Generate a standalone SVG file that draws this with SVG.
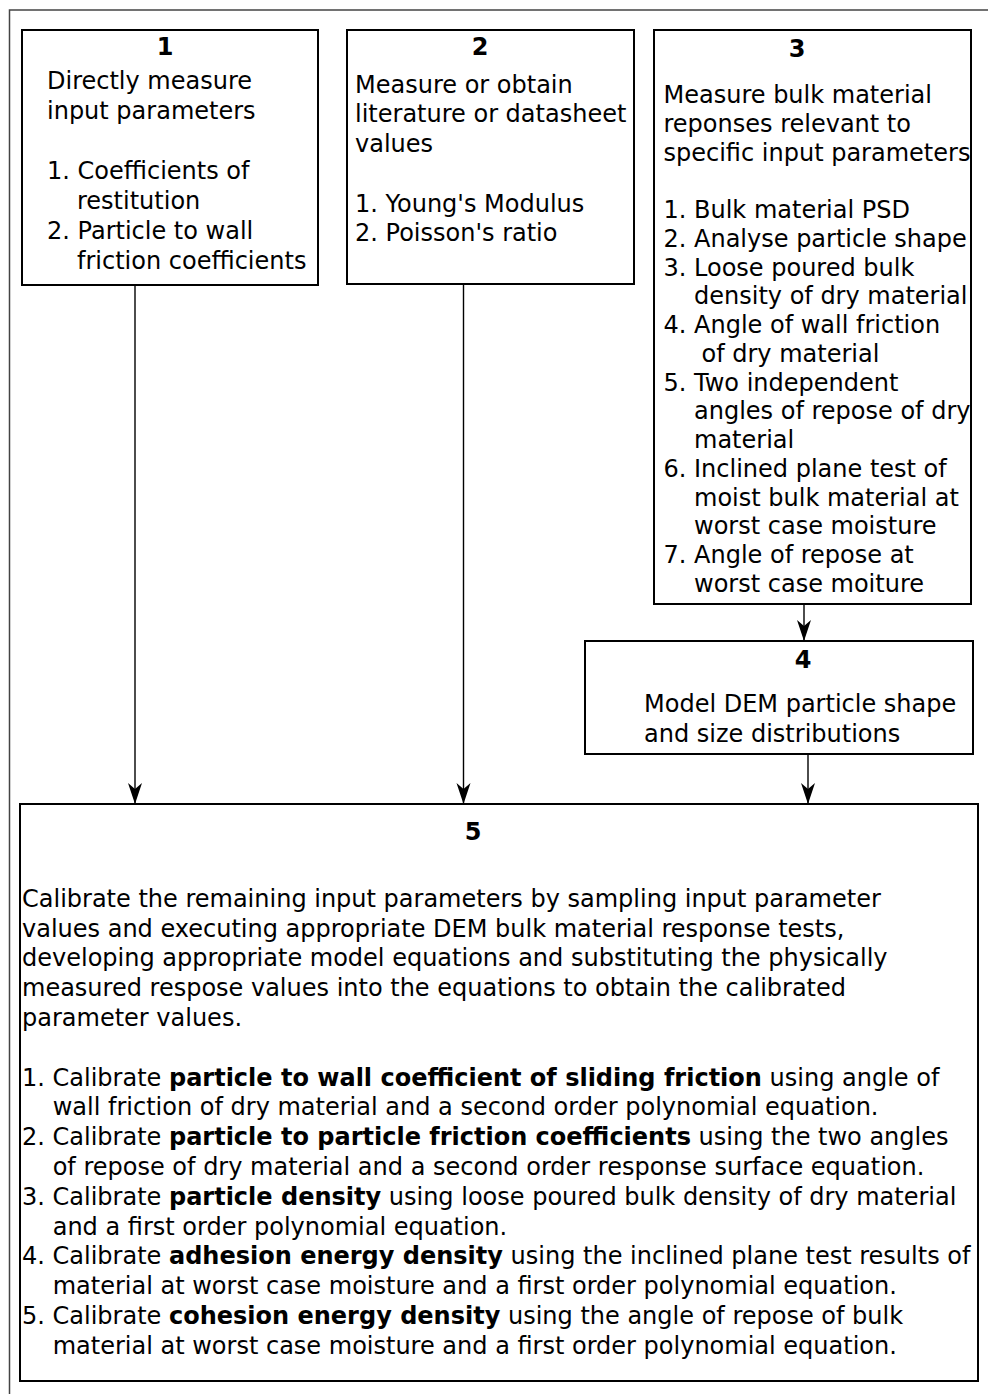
<svg xmlns="http://www.w3.org/2000/svg" width="988" height="1394" viewBox="0 0 988 1394">
  <style>
    text { font-family: "DejaVu Sans", "Liberation Sans", sans-serif; font-size: 24px; fill: #000; }
    .num { font-weight: bold; text-anchor: middle; }
    .b { font-weight: bold; }
    .box { fill: #fff; stroke: #000; stroke-width: 2; }
    .frame { fill: none; stroke: #444; stroke-width: 1.5; }
    .edge { fill: none; stroke: #000; stroke-width: 1.4; }
  </style>
  <defs>
    <marker id="arrow" markerUnits="userSpaceOnUse" markerWidth="24" markerHeight="16" viewBox="-22 -8 24 16" refX="0" refY="0" orient="auto">
      <path d="M0,0 L-21,-7 L-15,0 L-21,7 Z" fill="#000"/>
    </marker>
  </defs>

  <rect width="988" height="1394" fill="#fff"/>

  <!-- outer frame (only top and left edges visible) -->
  <path class="frame" d="M9.5,1394 V10 H988"/>

  <!-- step 1 -->
  <g id="step1">
    <rect class="box" x="22" y="30" width="296" height="255"/>
    <text class="num" x="165" y="55">1</text>
    <text x="47" y="89">Directly measure</text>
    <text x="47" y="119">input parameters</text>
    <text x="47" y="179">1. Coefficients of</text>
    <text x="77" y="209">restitution</text>
    <text x="47" y="239">2. Particle to wall</text>
    <text x="77" y="269">friction coefficients</text>
  </g>

  <!-- step 2 -->
  <g id="step2">
    <rect class="box" x="347" y="30" width="287" height="254"/>
    <text class="num" x="480" y="55">2</text>
    <text x="355" y="92.7">Measure or obtain</text>
    <text x="355" y="122.4">literature or datasheet</text>
    <text x="355" y="152.1">values</text>
    <text x="355" y="211.5">1. Young's Modulus</text>
    <text x="355" y="241.2">2. Poisson's ratio</text>
  </g>

  <!-- step 3 -->
  <g id="step3">
    <rect class="box" x="654" y="30" width="317" height="574"/>
    <text class="num" x="797" y="57">3</text>
    <text x="663.5" y="103.3">Measure bulk material</text>
    <text x="663.5" y="132">reponses relevant to</text>
    <text x="663.5" y="160.8">specific input parameters</text>
    <text x="663.5" y="218.2">1. Bulk material PSD</text>
    <text x="663.5" y="246.9">2. Analyse particle shape</text>
    <text x="663.5" y="275.7">3. Loose poured bulk</text>
    <text x="694" y="304.4">density of dry material</text>
    <text x="663.5" y="333.1">4. Angle of wall friction</text>
    <text x="701.5" y="361.8">of dry material</text>
    <text x="663.5" y="390.6">5. Two independent</text>
    <text x="694" y="419.3">angles of repose of dry</text>
    <text x="694" y="448">material</text>
    <text x="663.5" y="476.7">6. Inclined plane test of</text>
    <text x="694" y="505.5">moist bulk material at</text>
    <text x="694" y="534.2">worst case moisture</text>
    <text x="663.5" y="562.9">7. Angle of repose at</text>
    <text x="694" y="591.7">worst case moiture</text>
  </g>

  <!-- step 4 -->
  <g id="step4">
    <rect class="box" x="585" y="641" width="388" height="113"/>
    <text class="num" x="803" y="668">4</text>
    <text x="644" y="711.7">Model DEM particle shape</text>
    <text x="644" y="741.7">and size distributions</text>
  </g>

  <!-- step 5 -->
  <g id="step5">
    <rect class="box" x="20" y="804" width="958" height="577"/>
    <text class="num" x="473" y="840">5</text>
    <text x="22" y="906.7">Calibrate the remaining input parameters by sampling input parameter</text>
    <text x="22" y="936.5">values and executing appropriate DEM bulk material response tests,</text>
    <text x="22" y="966.3">developing appropriate model equations and substituting the physically</text>
    <text x="22" y="996.1">measured respose values into the equations to obtain the calibrated</text>
    <text x="22" y="1025.9">parameter values.</text>
    <text x="22" y="1085.5">1. Calibrate <tspan class="b">particle to wall coefficient of sliding friction</tspan> using angle of</text>
    <text x="52.7" y="1115.3">wall friction of dry material and a second order polynomial equation.</text>
    <text x="22" y="1145.1">2. Calibrate <tspan class="b">particle to particle friction coefficients</tspan> using the two angles</text>
    <text x="52.7" y="1174.9">of repose of dry material and a second order response surface equation.</text>
    <text x="22" y="1204.7">3. Calibrate <tspan class="b">particle density</tspan> using loose poured bulk density of dry material</text>
    <text x="52.7" y="1234.5">and a first order polynomial equation.</text>
    <text x="22" y="1264.3">4. Calibrate <tspan class="b">adhesion energy density</tspan> using the inclined plane test results of</text>
    <text x="52.7" y="1294.1">material at worst case moisture and a first order polynomial equation.</text>
    <text x="22" y="1323.9">5. Calibrate <tspan class="b">cohesion energy density</tspan> using the angle of repose of bulk</text>
    <text x="52.7" y="1353.7">material at worst case moisture and a first order polynomial equation.</text>
  </g>

  <!-- connectors -->
  <g id="connectors">
    <path class="edge" d="M135,285 V804" marker-end="url(#arrow)"/>
    <path class="edge" d="M463.5,284 V804" marker-end="url(#arrow)"/>
    <path class="edge" d="M804,604 V641" marker-end="url(#arrow)"/>
    <path class="edge" d="M808,754 V804" marker-end="url(#arrow)"/>
  </g>
</svg>
